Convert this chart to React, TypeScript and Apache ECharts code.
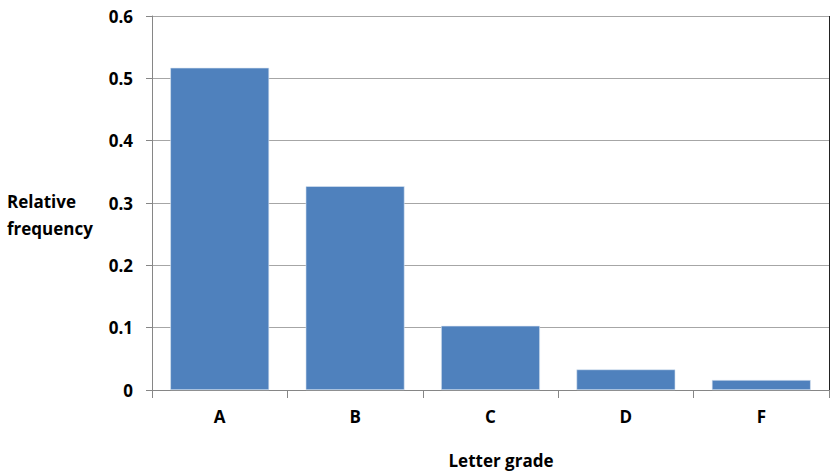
import React, { useEffect, useRef } from "react";
import * as echarts from "echarts";

const categories = ["A", "B", "C", "D", "F"];
const values = [0.517, 0.327, 0.103, 0.033, 0.016];
const yTicks = [0, 0.1, 0.2, 0.3, 0.4, 0.5, 0.6];
const yAxisName = ["Relative", "frequency"];
const xAxisName = "Letter grade";

const FONT = "'Open Sans', 'Noto Sans', sans-serif";
const FS = 17;

export default function App() {
  const ref = useRef<HTMLDivElement>(null);
  useEffect(() => {
    if (!ref.current) return;
    const chart = echarts.init(ref.current, null, { renderer: "svg" });
    chart.setOption({
      animation: false,
      backgroundColor: "#ffffff",
      grid: { left: 152, right: 1, top: 16, bottom: 84, containLabel: false },
      xAxis: {
        type: "category",
        data: categories,
        axisLine: { lineStyle: { color: "#868686", width: 1 } },
        axisTick: { show: true, length: 8, alignWithLabel: false, lineStyle: { color: "#868686" } },
        axisLabel: {
          margin: 18,
          fontFamily: FONT,
          fontWeight: "bold",
          fontSize: FS,
          color: "#000",
        },
      },
      yAxis: {
        type: "value",
        min: yTicks[0],
        max: yTicks[yTicks.length - 1],
        interval: 0.1,
        axisLine: { show: true, lineStyle: { color: "#868686", width: 1 } },
        axisTick: { show: true, length: 6, lineStyle: { color: "#868686" } },
        splitLine: { lineStyle: { color: "#a6a6a6", width: 1 } },
        axisLabel: {
          margin: 19,
          fontFamily: FONT,
          fontWeight: "bold",
          fontSize: FS,
          color: "#000",
          formatter: (v: number) => (v === 0 ? "0" : v.toFixed(1)),
        },
      },
      series: [
        {
          type: "bar",
          data: values,
          barCategoryGap: "27%",
          itemStyle: { color: "#4F81BD", borderColor: "#dce6f2", borderWidth: 0.6 },
        },
      ],
      graphic: [
        {
          type: "text",
          left: 7,
          top: 188,
          style: {
            text: yAxisName.join("\n"),
            fontFamily: FONT,
            fontWeight: "bold",
            fontSize: FS,
            lineHeight: 27,
            fill: "#000",
          },
        },
        {
          type: "text",
          x: 501,
          y: 460,
          style: {
            text: xAxisName,
            align: "center",
            verticalAlign: "middle",
            fontFamily: FONT,
            fontWeight: "bold",
            fontSize: FS,
            fill: "#000",
          },
        },
        {
          type: "line",
          shape: { x1: 152, y1: 16.5, x2: 830, y2: 16.5 },
          style: { stroke: "#6e6e6e", lineWidth: 1 },
        },
        {
          type: "line",
          shape: { x1: 829.5, y1: 16, x2: 829.5, y2: 390 },
          style: { stroke: "#222", lineWidth: 1 },
        },
      ],
    });
    return () => chart.dispose();
  }, []);
  return (
    <div
      ref={ref}
      style={{ position: "fixed", left: 0, top: 0, width: 830, height: 474 }}
    />
  );
}
